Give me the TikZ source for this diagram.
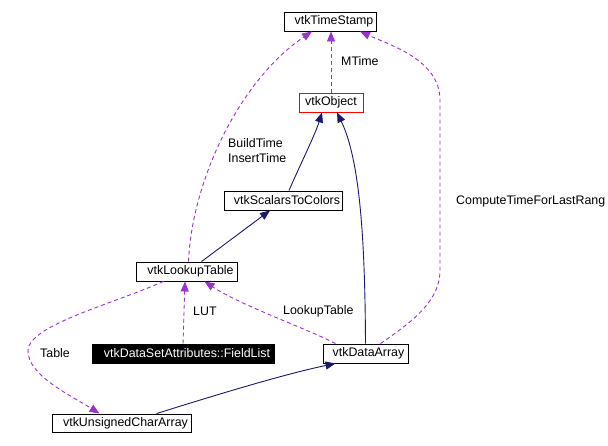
\documentclass[tikz,border=0pt]{standalone}
\usepackage{fontspec}
\setmainfont{Liberation Sans}
\usetikzlibrary{arrows.meta}
\definecolor{navy}{HTML}{191970}
\definecolor{purp}{HTML}{9A32CD}
\begin{document}
\begin{tikzpicture}[x=1pt,y=-1pt,
  font=\fontsize{12.4}{14}\selectfont,
  cls/.style={draw=black, line width=0.9pt, inner sep=0pt, minimum height=19pt, fill=white},
  inh/.style={draw=navy, line width=0.9pt, -{Triangle[length=10pt,width=8pt]}},
  usedby/.style={draw=purp, line width=0.9pt, dash pattern=on 4pt off 3pt, -{Triangle[length=10pt,width=8pt]}},
  lbl/.style={inner sep=0pt, anchor=west}]
\useasboundingbox (0,0) rectangle (608,445);

\node[cls, minimum width=92pt] (ts) at (330,21.5) {\hspace*{8pt}vtkTimeStamp};
\node[cls, draw=red, minimum width=64pt] (obj) at (331,102.5) {vtkObject};
\node[cls, minimum width=118pt] (stc) at (283,200.5) {\hspace*{8pt}vtkScalarsToColors};
\node[cls, minimum width=101pt] (lut) at (186.5,271.5) {\hspace*{8pt}vtkLookupTable};
\node[cls, fill=black, text=white, minimum width=182pt] (fl) at (183,353.5) {\hspace*{8pt}vtkDataSetAttributes::FieldList};
\node[cls, minimum width=85pt] (da) at (365.5,353.5) {\hspace*{6pt}vtkDataArray};
\node[cls, minimum width=139pt, minimum height=18pt] (uca) at (121.5,423) {\hspace*{8pt}vtkUnsignedCharArray};

% inheritance
\draw[inh] ([xshift=6pt]stc.north) .. controls (300,165) and (315,135) .. ([xshift=-9pt]obj.south);
\draw[inh] (da.north) .. controls (365,240) and (360,160) .. ([xshift=6pt]obj.south);
\draw[inh] ([xshift=15pt]lut.north) -- ([xshift=-13pt]stc.south);
\draw[inh] ([xshift=35pt]uca.north) .. controls (200,400) and (280,375) .. ([xshift=-30pt]da.south);

% usage
\draw[usedby] (obj.north) -- ([xshift=1pt]ts.south);
\draw[usedby] ([xshift=2pt]lut.north) .. controls (192,180) and (240,80) .. ([xshift=-18pt]ts.south);
\draw[usedby] ([xshift=15pt]da.north) .. controls (415,320) and (440,300) .. (440,270) -- (440,100) .. controls (440,60) and (390,45) .. ([xshift=30pt]ts.south);
\draw[usedby] (fl.north) -- ([xshift=-1.5pt]lut.south);
\draw[usedby] ([xshift=-30pt]da.north) .. controls (310,330) and (240,305) .. ([xshift=18pt]lut.south);
\draw[usedby] ([xshift=-23pt]lut.south) .. controls (110,305) and (30,325) .. (28,350) .. controls (27,375) and (70,395) .. ([xshift=-22pt]uca.north);

% labels
\node[lbl] (l1) at (341,61) {MTime};
\node[lbl] (l2) at (228,143) {BuildTime};
\node[lbl] (l3) at (228,158) {InsertTime};
\node[lbl] (l4) at (456,201) {ComputeTimeForLastRang};
\node[lbl] (l5) at (283,311) {LookupTable};
\node[lbl] (l6) at (193,311) {LUT};
\node[lbl] (l7) at (40,353) {Table};
\end{tikzpicture}
\end{document}
